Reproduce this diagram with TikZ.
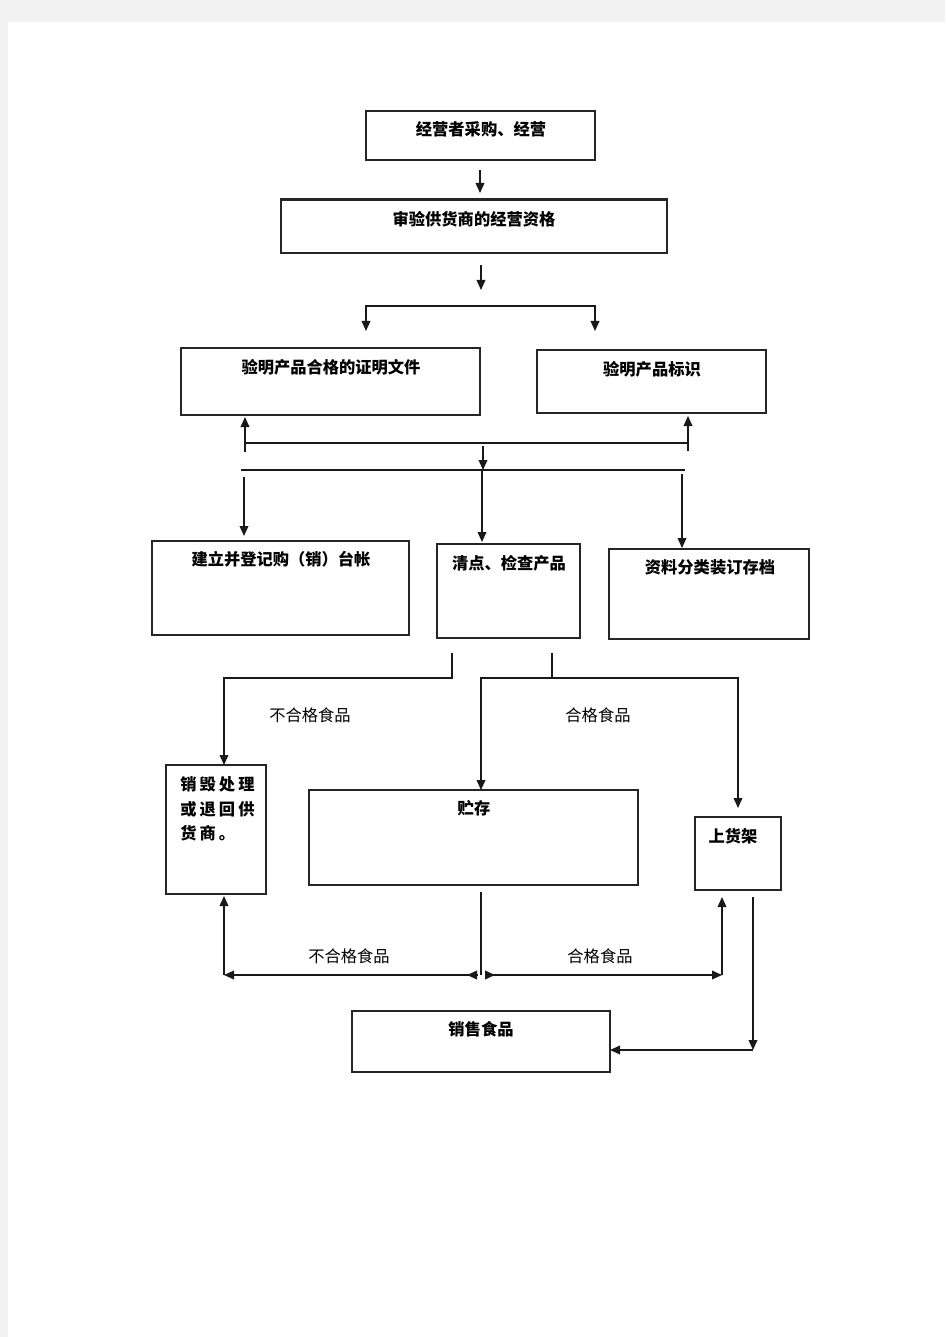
\documentclass[tikz,border=0pt]{standalone}
\usepackage{fontspec}
\newfontfamily\cjk{Noto Sans CJK SC}
\usetikzlibrary{arrows.meta,fit,calc}
\begin{document}
\begin{tikzpicture}[x=0.75pt,y=-0.75pt,
  box/.style={draw=black!85,line width=0.9pt,inner sep=0pt},
  txt/.style={font=\cjk\bfseries\fontsize{12.2}{16}\selectfont,inner sep=0pt},
  lbl/.style={font=\cjk\fontsize{12.2}{16}\selectfont,inner sep=0pt},
  ln/.style={line width=1.1pt,draw=black!90},
  arr/.style={ln,-{Triangle[length=7.5pt,width=6.5pt]}},
  darr/.style={ln,{Triangle[length=7.5pt,width=6.5pt]}-{Triangle[length=7.5pt,width=6.5pt]}}]
\useasboundingbox (0,0) rectangle (945,1337);
\fill[black!5] (0,0) rectangle (945,1337);
\fill[white] (8,22) rectangle (945,1337);

% boxes
\node[box,fit={(366,111)(595,160)}] (b1) {};
\node[txt] (t1) at (481,129) {经营者采购、经营};
\node[box,fit={(281,200)(667,253)}] (b2) {};
\draw[line width=1.6pt,black!85] (b2.north west) -- (b2.north east);
\node[txt] (t2) at (474,219) {审验供货商的经营资格};
\node[box,fit={(181,348)(480,415)}] (b3) {};
\node[txt] (t3) at (331,367) {验明产品合格的证明文件};
\node[box,fit={(537,350)(766,413)}] (b4) {};
\node[txt] (t4) at (652,369) {验明产品标识};
\node[box,fit={(152,541)(409,635)}] (b5) {};
\node[txt] (t5) at (281,559) {建立并登记购（销）台帐};
\node[box,fit={(437,544)(580,638)}] (b6) {};
\node[txt] (t6) at (509,563) {清点、检查产品};
\node[box,fit={(609,549)(809,639)}] (b7) {};
\node[txt] (t7) at (710,567) {资料分类装订存档};
\node[box,fit={(166,765)(266,894)}] (b8) {};
\node[txt,anchor=west] (t8a) at (180,784) {销\hspace{2.3pt}毁\hspace{2.3pt}处\hspace{2.3pt}理};
\node[txt,anchor=west] (t8b) at (180,809) {或\hspace{2.3pt}退\hspace{2.3pt}回\hspace{2.3pt}供};
\node[txt,anchor=west] (t8c) at (180,833) {货\hspace{2.3pt}商\hspace{2.3pt}。};
\node[box,fit={(309,790)(638,885)}] (b9) {};
\node[txt] (t9) at (474,808) {贮存};
\node[box,fit={(695,817)(781,890)}] (b10) {};
\node[txt] (t10) at (733,836) {上货架};
\node[box,fit={(352,1011)(610,1072)}] (b11) {};
\node[txt] (t11) at (481,1029) {销售食品};

% labels
\node[lbl] (l1) at (310,715) {不合格食品};
\node[lbl] (l2) at (598,715) {合格食品};
\node[lbl] (l3) at (349,956) {不合格食品};
\node[lbl] (l4) at (600,956) {合格食品};

% connectors
\coordinate (c1) at (480,170); \coordinate (c2) at (480,193);
\draw[arr] (c1) -- (c2);
\coordinate (c3) at (481,265); \coordinate (c4) at (481,290);
\draw[arr] (c3) -- (c4);
\coordinate (s1) at (366,331); \coordinate (s2) at (366,306);
\coordinate (s3) at (595,306); \coordinate (s4) at (595,331);
\draw[darr] (s1) -- (s2) -- (s3) -- (s4);

\coordinate (u1) at (245,417); \coordinate (u2) at (245,443);
\coordinate (u3) at (688,443); \coordinate (u4) at (688,416);
\draw[darr] (u1) -- (u2) -- (u3) -- (u4);
\draw[ln] (245,443) -- (245,452);
\draw[ln] (688,443) -- (688,451);
\coordinate (m1) at (483,446); \coordinate (m2) at (483,470);
\draw[arr] (m1) -- (m2);
\coordinate (h1) at (241,470); \coordinate (h2) at (685,470);
\draw[ln] (h1) -- (h2);
\coordinate (d1) at (244,477); \coordinate (d2) at (244,536);
\draw[arr] (d1) -- (d2);
\coordinate (d3) at (482,470); \coordinate (d4) at (482,542);
\draw[arr] (d3) -- (d4);
\coordinate (d5) at (682,474); \coordinate (d6) at (682,548);
\draw[arr] (d5) -- (d6);

\coordinate (e1) at (452,653); \coordinate (e2) at (452,678);
\coordinate (e3) at (224,678); \coordinate (e4) at (224,765);
\draw[arr] (e1) -- (e2) -- (e3) -- (e4);
\coordinate (f1) at (552,653); \coordinate (f2) at (552,678);
\draw[ln] (f1) -- (f2);
\coordinate (g1) at (481,790); \coordinate (g2) at (481,678);
\coordinate (g3) at (738,678); \coordinate (g4) at (738,808);
\draw[darr] (g1) -- (g2) -- (g3) -- (g4);

% bottom distribution
\coordinate (k0) at (481,892); \coordinate (k1) at (481,975);
\draw[ln] (k0) -- (k1);
\coordinate (p1) at (224,896); \coordinate (p2) at (224,975);
\coordinate (p3) at (477,975); \coordinate (p4) at (467,975);
\draw[arr] (p2) -- (p1);
\draw[arr] (p3) -- (p2);
\draw[arr] (p3) -- (p4);
\coordinate (q1) at (722,897); \coordinate (q2) at (722,975);
\coordinate (q3) at (485,975); \coordinate (q4) at (495,975);
\draw[arr] (q2) -- (q1);
\draw[arr] (q3) -- (q2);
\draw[arr] (q3) -- (q4);

\coordinate (r1) at (753,897); \coordinate (r2) at (753,1050);
\coordinate (r3) at (610,1050);
\draw[arr] (r1) -- (r2);
\draw[arr] (r2) -- (r3);
\end{tikzpicture}
\end{document}
